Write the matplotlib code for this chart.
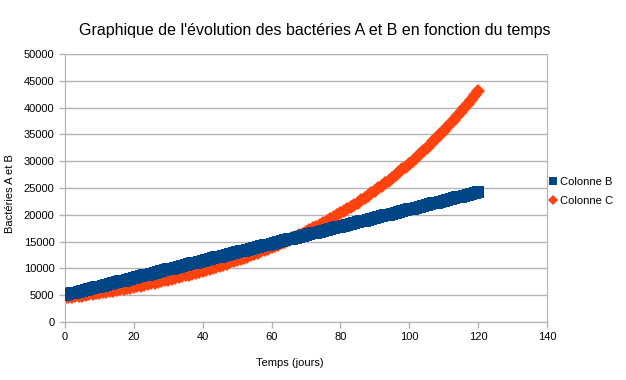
import matplotlib
matplotlib.use("Agg")
import matplotlib.pyplot as plt

plt.rcParams['font.family'] = ['Liberation Sans', 'DejaVu Sans']

# temps en jours
jours = list(range(0, 121))

# Colonne B : bactéries A
colonne_b = [5000, 5160, 5320, 5480, 5640, 5800, 5960, 6120, 6280, 6440,
             6600, 6760, 6920, 7080, 7240, 7400, 7560, 7720, 7880, 8040,
             8200, 8360, 8520, 8680, 8840, 9000, 9160, 9320, 9480, 9640,
             9800, 9960, 10120, 10280, 10440, 10600, 10760, 10920, 11080, 11240,
             11400, 11560, 11720, 11880, 12040, 12200, 12360, 12520, 12680, 12840,
             13000, 13160, 13320, 13480, 13640, 13800, 13960, 14120, 14280, 14440,
             14600, 14760, 14920, 15080, 15240, 15400, 15560, 15720, 15880, 16040,
             16200, 16360, 16520, 16680, 16840, 17000, 17160, 17320, 17480, 17640,
             17800, 17960, 18120, 18280, 18440, 18600, 18760, 18920, 19080, 19240,
             19400, 19560, 19720, 19880, 20040, 20200, 20360, 20520, 20680, 20840,
             21000, 21160, 21320, 21480, 21640, 21800, 21960, 22120, 22280, 22440,
             22600, 22760, 22920, 23080, 23240, 23400, 23560, 23720, 23880, 24040,
             24200]

# Colonne C : bactéries B
colonne_c = [4500, 4586, 4673, 4761, 4852, 4944, 5038, 5134, 5231, 5331,
             5432, 5535, 5640, 5748, 5857, 5968, 6081, 6197, 6315, 6435,
             6557, 6682, 6809, 6938, 7070, 7204, 7341, 7480, 7622, 7767,
             7915, 8065, 8218, 8375, 8534, 8696, 8861, 9029, 9201, 9376,
             9554, 9735, 9920, 10109, 10301, 10497, 10696, 10899, 11106, 11317,
             11533, 11752, 11975, 12202, 12434, 12671, 12911, 13157, 13407, 13661,
             13921, 14185, 14455, 14730, 15009, 15295, 15585, 15881, 16183, 16490,
             16804, 17123, 17448, 17780, 18118, 18462, 18813, 19170, 19534, 19906,
             20284, 20669, 21062, 21462, 21870, 22285, 22709, 23140, 23580, 24028,
             24484, 24950, 25424, 25907, 26399, 26901, 27412, 27932, 28463, 29004,
             29555, 30117, 30689, 31272, 31866, 32472, 33088, 33717, 34358, 35011,
             35676, 36354, 37044, 37748, 38465, 39196, 39941, 40700, 41473, 42261,
             43064]

fig = plt.figure(figsize=(6.26, 3.80), dpi=100)
ax = fig.add_axes([65/626, 1-322/380, (547-65)/626, (322-54)/380])

ax.plot(jours, colonne_b, linestyle='none', marker='s', markersize=8,
        color='#004586', markeredgewidth=0, label='Colonne B', zorder=3)
ax.plot(jours, colonne_c, linestyle='none', marker='D', markersize=7,
        color='#ff420e', markeredgewidth=0, label='Colonne C', zorder=2)

ax.set_xlim(0, 140)
ax.set_ylim(0, 50000)
ax.set_xticks(range(0, 141, 20))
ax.set_yticks(range(0, 50001, 5000))
ax.grid(axis='y', color='#b3b3b3', linewidth=1)
ax.set_axisbelow(True)
for s in ax.spines.values():
    s.set_color('#b3b3b3')
ax.tick_params(colors='#b3b3b3', labelcolor='black', labelsize=8, length=4, width=1)

# titre centré sur la figure, comme dans LibreOffice
fig.text(315/626, 1-30/380,
         "Graphique de l'évolution des bactéries A et B en fonction du temps",
         fontsize=11.5, ha='center', va='center')
ax.set_xlabel('Temps (jours)', fontsize=8, labelpad=12)
ax.xaxis.set_label_coords(0.467, -0.135)
ax.set_ylabel('Bactéries A et B', fontsize=8, labelpad=6)
ax.yaxis.set_label_coords(-0.103, 0.48)

leg = ax.legend(loc='center left', bbox_to_anchor=(0.995, 0.487), frameon=False,
                fontsize=8, handlelength=0.5, handletextpad=0.35, borderaxespad=0.1,
                labelspacing=0.75, markerscale=0.8)

fig.savefig('out.png', dpi=100)
